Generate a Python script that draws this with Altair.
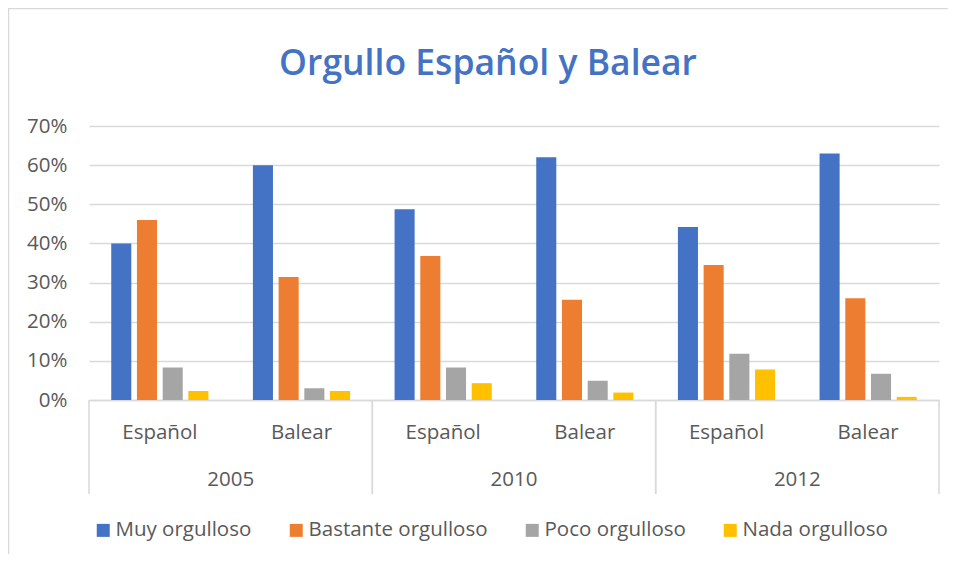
import altair as alt
import pandas as pd

years = ["2005", "2010", "2012"]
groups = ["Español", "Balear"]
series = ["Muy orgulloso", "Bastante orgulloso", "Poco orgulloso", "Nada orgulloso"]
colors = ["#4472C4", "#ED7D31", "#A5A5A5", "#FFC000"]
# order: 2005 Español, 2005 Balear, 2010 Español, 2010 Balear, 2012 Español, 2012 Balear
muy = [0.400, 0.600, 0.487, 0.620, 0.442, 0.630]
bastante = [0.460, 0.314, 0.368, 0.256, 0.345, 0.260]
poco = [0.083, 0.030, 0.083, 0.049, 0.118, 0.067]
nada = [0.023, 0.023, 0.043, 0.019, 0.078, 0.008]
y_ticks = [0.0, 0.1, 0.2, 0.3, 0.4, 0.5, 0.6, 0.7]
title_text = ["Orgullo Español y Balear"]

FONT = "Open Sans"
TXT = "#595959"
GRID = "#D9D9D9"
FS = 20.5
W, H = 850, 274

keys = [f"{y}|{g}" for y in years for g in groups]
rows = []
for s, vals in zip(series, [muy, bastante, poco, nada]):
    for k, v in zip(keys, vals):
        rows.append({"key": k, "series": s, "value": v})
df = pd.DataFrame(rows)

year_df = pd.DataFrame({"year": years, "key": [f"{y}|{groups[1]}" for y in years]})
sep_start = pd.DataFrame({"key": [f"{y}|{groups[0]}" for y in years]})
sep_end = pd.DataFrame({"key": [f"{y}|{groups[1]}" for y in years]})
frame_df = pd.DataFrame({"f": [0]})
title_df = pd.DataFrame({"t": title_text})

xscale = alt.Scale(domain=keys, paddingInner=0, paddingOuter=0)
xaxis = alt.Axis(labelExpr="split(datum.label, '|')[1]", labelAngle=0, ticks=False,
                 domain=True, domainColor=GRID, domainWidth=1.5, grid=False,
                 labelFontSize=FS, labelFont=FONT, labelColor=TXT, labelPadding=22, title=None)

bars = alt.Chart(df).mark_bar().encode(
    x=alt.X("key:N", sort=keys, scale=xscale, axis=xaxis),
    xOffset=alt.XOffset("series:N", sort=series,
                        scale=alt.Scale(domain=series, paddingInner=0.22, paddingOuter=0.865)),
    y=alt.Y("value:Q", scale=alt.Scale(domain=[0, 0.7], nice=False), title=None,
            axis=alt.Axis(values=y_ticks, format=".0%", grid=True, gridColor=GRID, gridWidth=1.5,
                          domain=False, ticks=False, labelFontSize=FS, labelFont=FONT,
                          labelColor=TXT, labelPadding=22)),
    color=alt.Color("series:N", sort=series, scale=alt.Scale(domain=series, range=colors),
                    legend=alt.Legend(orient="none", legendX=4, legendY=394, direction="horizontal",
                                      title=None, symbolType="square", symbolSize=169,
                                      symbolStrokeWidth=0, labelFontSize=FS, labelFont=FONT,
                                      labelColor=TXT, columnPadding=34, labelOffset=2,
                                      labelLimit=400)),
)

year_text = alt.Chart(year_df).mark_text(fontSize=FS, font=FONT, color=TXT).encode(
    x=alt.X("key:N", sort=keys, scale=xscale, bandPosition=0, axis=xaxis),
    y=alt.value(H + 80),
    text="year:N",
)

sep1 = alt.Chart(sep_start).mark_rule(color=GRID, strokeWidth=1.5).encode(
    x=alt.X("key:N", sort=keys, scale=xscale, bandPosition=0, axis=xaxis),
    y=alt.value(H), y2=alt.value(H + 94),
)
sep2 = alt.Chart(sep_end).mark_rule(color=GRID, strokeWidth=1.5).encode(
    x=alt.X("key:N", sort=keys, scale=xscale, bandPosition=1, axis=xaxis),
    y=alt.value(H), y2=alt.value(H + 94),
)

frame = alt.Chart(frame_df).mark_rect(fillOpacity=0, stroke=GRID, strokeWidth=1.5).encode(
    x=alt.value(-80.5), x2=alt.value(W + 40), y=alt.value(-117.5), y2=alt.value(H + 200),
)

title = alt.Chart(title_df).mark_text(fontSize=35.5, font=FONT, fontWeight=600, color="#4472C4",
                                      align="center", baseline="alphabetic").encode(
    x=alt.value(W / 2 - 26), y=alt.value(-51), text="t:N",
)

chart = alt.layer(frame, bars, sep1, sep2, year_text, title).properties(
    width=W, height=H,
    autosize=alt.AutoSizeParams(type="none"),
    padding={"left": 81, "top": 118, "right": 9, "bottom": 154},
).configure_view(stroke=None)

chart.save("out.html", embed_options={"renderer": "svg", "actions": False})
